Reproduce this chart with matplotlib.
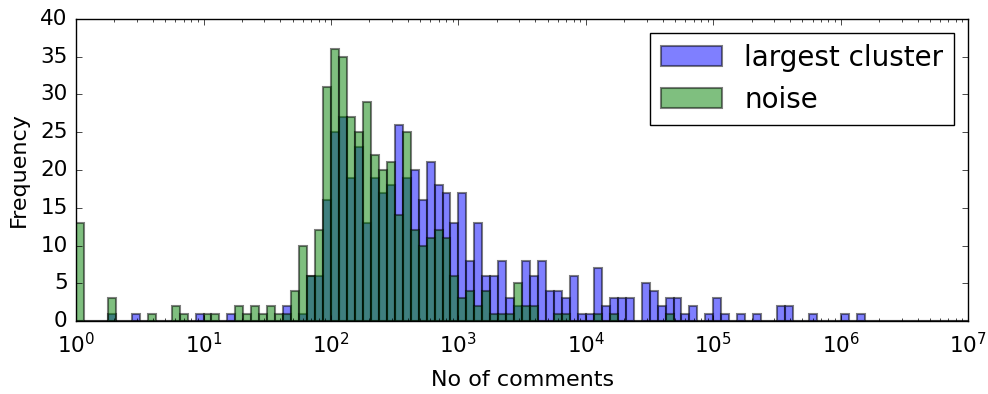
import numpy as np
import matplotlib
matplotlib.use("Agg")
from matplotlib import pyplot as plt

plt.style.use('classic')
plt.rcParams['figure.facecolor'] = 'white'
plt.rcParams['savefig.facecolor'] = 'white'
plt.rcParams['mathtext.fontset'] = 'dejavusans'
plt.rcParams['font.family'] = ['DejaVu Sans']

# log bins, 16 per decade from 10^0 to 10^7
bins_per_decade = 16
n_decades = 7

# counts per bin, one row per decade
largest_cluster = [
    0, 0, 0, 0, 1, 0, 0, 1, 0, 0, 0, 0, 0, 0, 0, 1,
    0, 0, 0, 1, 0, 0, 0, 0, 0, 0, 2, 0, 1, 6, 6, 16,
    25, 27, 19, 23, 13, 19, 17, 18, 26, 19, 20, 16, 21, 18, 17, 13,
    17, 8, 13, 6, 6, 8, 3, 2, 8, 6, 8, 4, 4, 3, 6, 1,
    1, 7, 2, 3, 3, 3, 0, 5, 4, 2, 3, 3, 1, 2, 0, 1,
    3, 1, 0, 1, 0, 1, 0, 0, 2, 2, 0, 0, 1, 0, 0, 0,
    1, 0, 1, 0, 0, 0, 0, 0, 0, 0, 0, 0, 0, 0, 0, 0,
]
noise = [
    13, 0, 0, 0, 3, 0, 0, 0, 0, 1, 0, 0, 2, 1, 0, 0,
    1, 1, 0, 0, 2, 1, 2, 1, 2, 1, 1, 4, 10, 6, 12, 31,
    36, 35, 27, 25, 29, 22, 20, 21, 14, 25, 12, 10, 11, 12, 11, 6,
    3, 4, 2, 4, 1, 1, 1, 5, 2, 2, 0, 0, 1, 1, 0, 0,
    0, 1, 0, 1, 0, 0, 0, 0, 0, 0, 1, 0, 0, 0, 0, 0,
    0, 0, 0, 0, 0, 0, 0, 0, 0, 0, 0, 0, 0, 0, 0, 0,
    0, 0, 0, 0, 0, 0, 0, 0, 0, 0, 0, 0, 0, 0, 0, 0,
]

edges = 10 ** (np.arange(n_decades * bins_per_decade + 1) / bins_per_decade)
centers = np.sqrt(edges[:-1] * edges[1:])

fig, ax = plt.subplots(figsize=(9.88, 3.94), dpi=100)
fig.subplots_adjust(left=0.077, right=0.98, top=0.952, bottom=0.185)

ax.hist(centers, bins=edges, weights=largest_cluster, color='b', alpha=0.5,
        linewidth=1.5, label='largest cluster')
ax.hist(centers, bins=edges, weights=noise, color='g', alpha=0.5,
        linewidth=1.5, label='noise')

ax.set_xscale('log')
ax.set_xlim(1, 1e7)
ax.set_ylim(0, 40)
ax.set_yticks(np.arange(0, 41, 5))
ax.tick_params(labelsize=15.5)
ax.tick_params(axis='x', which='major', pad=8)
ax.tick_params(axis='y', pad=6)
ax.set_xlabel('No of comments', fontsize=16, labelpad=9)
ax.set_ylabel('Frequency', fontsize=16, labelpad=8)
ax.legend(loc='upper right', fontsize=20, handlelength=2.2)

fig.savefig('out.png', dpi=100)
